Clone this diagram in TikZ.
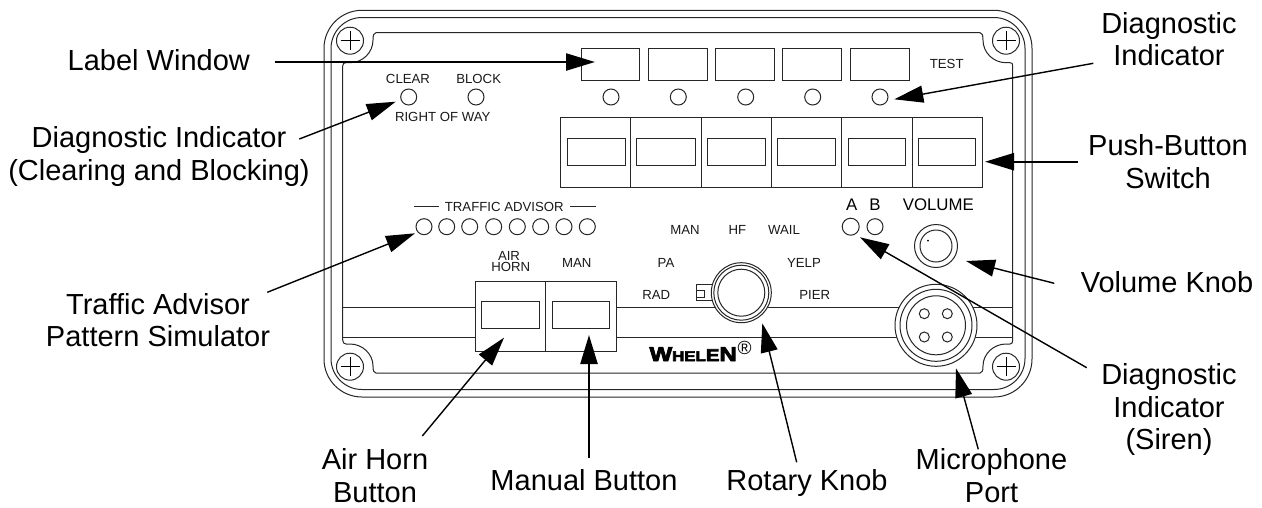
\documentclass[tikz,border=0pt]{standalone}
\usepackage{fontspec}
\setmainfont{Liberation Sans}
\newfontfamily\logofont[BoldFeatures={FakeBold=4}]{Liberation Sans}
\usetikzlibrary{arrows.meta}
\newcommand{\fsz}[1]{\fontsize{#1}{#1}\selectfont}
\tikzset{
  x=1pt,y=-1pt,
  body/.style={line width=1pt,draw=black!85},
  part/.style={line width=1pt,draw=black!85,fill=white},
  callout/.style={font=\fontsize{29}{32.3}\selectfont,align=center,inner sep=0pt,anchor=base},
  small/.style={font=\fsz{13.2},inner sep=0pt,black!90},
  big/.style={font=\fsz{16.8},inner sep=0pt},
  thinarrow/.style={line width=1.4pt,-{Triangle[length=29pt,width=17pt]}},
  thickarrow/.style={line width=2.3pt,-{Triangle[length=29pt,width=17pt]}},
  led/.style={circle,draw=black!85,line width=1pt,fill=white,minimum size=16pt,inner sep=0pt},
}
\begin{document}
\begin{tikzpicture}
\useasboundingbox (0,0) rectangle (1262,507);
% housing
\draw[body,rounded corners=38pt] (324,10.3) rectangle (1032,397);
\draw[body,rounded corners=31pt] (331,17.5) rectangle (1025,389.5);
\draw[body] (342.7,66) .. controls (342.7,63.5) and (344,62.7) .. (346,62.7) -- (350,62.7)
 .. controls (362.5,62.7) and (373,52.7) .. (373,40) .. controls (373,35) and (374,32.7) .. (376,32.7)
 -- (980,32.7) .. controls (982,32.7) and (983,35) .. (983,40)
 .. controls (983,52.7) and (993.5,62.7) .. (1006,62.7) -- (1010,62.7)
 .. controls (1012,62.7) and (1012.7,63.5) .. (1012.7,66) -- (1012.7,340)
 .. controls (1012.7,342.5) and (1012,344) .. (1010,344) -- (1006,344)
 .. controls (993.5,344) and (983,354) .. (983,366) .. controls (983,371) and (982,373) .. (980,373)
 -- (376,373) .. controls (374,373) and (373,371) .. (373,366)
 .. controls (373,354) and (362.5,344) .. (350,344) -- (346,344)
 .. controls (344,344) and (342.7,342.5) .. (342.7,340) -- cycle;
\draw[body] (342.7,307.7) -- (475.5,307.7) (342.7,337) -- (475.5,337);
\draw[body] (616,307.7) -- (1012.7,307.7) (616,337) -- (1012.7,337);
% screws
\foreach \n/\cx/\cy in {s1/350/40.7,s2/1006/40.7,s3/350/366.7,s4/1006/366.7}{
  \node[circle,draw=black!85,line width=1pt,fill=white,minimum size=27pt,inner sep=0pt] (\n) at (\cx,\cy) {};
  \draw[line width=.8pt] (\cx-9.5,\cy) -- (\cx+9.5,\cy) (\cx,\cy-9.5) -- (\cx,\cy+9.5);
}
% label windows
\foreach \a/\b in {581/639.7,648.3/707,715.7/774.7,782.3/841.7,850/909}
  \draw[part] (\a,48.3) rectangle (\b,80.7);
\node[small] (test) at (946.7,64) {TEST};
% leds top
\foreach \n/\cx in {l1/611,l2/678.3,l3/745.7,l4/812.7,l5/880,clr/408.7,blk/476}
  \node[led] (\n) at (\cx,97) {};
\node[small] (tclear) at (408,79) {CLEAR};
\node[small] (tblock) at (478.7,79) {BLOCK};
\node[small] (trow) at (442.7,117) {RIGHT OF WAY};
% push buttons
\draw[part] (560.7,117.3) rectangle (982.3,187.7);
\foreach \d in {630.7,701,771,841.3,912.3} \draw[body] (\d,117.3) -- (\d,187.7);
\foreach \a/\b in {567.3/625.3,636.7/695,707.3/765.7,777.3/835.3,848/905.7,918.3/975.7}
  \draw[part] (\a,138.3) rectangle (\b,165.3);
% traffic advisor
\node[small] (ttraf) at (504.3,206.7) {TRAFFIC ADVISOR};
\draw[body] (414,206.7) -- (439.3,206.7) (570,206.7) -- (595.7,206.7);
\foreach \cx [count=\i] in {424,446.7,469.7,493.7,517.3,540.7,564,587.3}
  \node[led] (ta\i) at (\cx,226.7) {};
% siren leds and volume
\node[big] (ta) at (851.7,205) {A};
\node[big] (tb) at (875,205) {B};
\node[led,minimum size=17pt] (ledA) at (850.7,226.7) {};
\node[led] (ledB) at (875,226.7) {};
\node[big] (tvol) at (938.3,205) {VOLUME};
\node[circle,part,minimum size=43pt,inner sep=0pt] (vol) at (936,246) {};
\node[circle,part,minimum size=32pt,inner sep=0pt] (volin) at (936,246) {};
\fill (928,240.7) circle (1pt);
% bottom buttons
\draw[part] (475.5,281) rectangle (616,351.3);
\draw[body] (545.7,281) -- (545.7,351.3);
\draw[part] (481.3,301.3) rectangle (539.7,328.7);
\draw[part] (552.3,301.3) rectangle (609.7,328.7);
\node[small] (tair) at (509,256) {AIR};
\node[small] (thorn) at (510.7,267) {HORN};
\node[small] (tman) at (576.7,263) {MAN};
% rotary labels
\node[small] (rpa) at (666,263) {PA};
\node[small] (rrad) at (656.3,295) {RAD};
\node[small] (rman) at (685,230) {MAN};
\node[small] (rhf) at (737.3,230) {HF};
\node[small] (rwail) at (784,230) {WAIL};
\node[small] (ryelp) at (804,263) {YELP};
\node[small] (rpier) at (814.7,295) {PIER};
% rotary knob
\draw[part] (696,284.7) rectangle (714,300.3);
\draw[body] (696,290) -- (704,290) -- (704,297) -- (696,297);
\node[circle,part,minimum size=60pt,inner sep=0pt] (rot) at (741.3,292.7) {};
\node[circle,part,minimum size=55pt,inner sep=0pt] (rot2) at (741.3,292.7) {};
\node[circle,part,minimum size=47pt,inner sep=0pt] (rot3) at (741.3,292.7) {};
% mic port
\node[circle,part,minimum size=82pt,inner sep=0pt] (mic) at (936,325.3) {};
\node[circle,part,minimum size=72pt,inner sep=0pt] (mic2) at (936,325.3) {};
\node[circle,part,minimum size=59pt,inner sep=0pt] (mic3) at (936,325.3) {};
\foreach \n/\cx/\cy in {p1/924.3/313.7,p2/947.3/313.7,p3/924.3/337,p4/947.3/337}
  \node[circle,part,minimum size=10pt,inner sep=0pt] (\n) at (\cx,\cy) {};
% logo
\node[inner sep=0pt,anchor=base west,xscale=1.2] (logo) at (649.3,361)
  {\logofont\bfseries\fsz{20}W\fsz{14}HEL\fsz{17}E\fsz{20}N};
\node[inner sep=0pt] (reg) at (744.5,348) {\fsz{19}®};
% callout labels
\node[callout] (lw) at (158.8,70) {Label Window};
\node[callout] (dcb) at (159,180) {Diagnostic Indicator\\(Clearing and Blocking)};
\node[callout] (tap) at (158,346.7) {Traffic Advisor\\Pattern Simulator};
\node[callout] (ah) at (375,502) {Air Horn\\Button};
\node[callout] (mb) at (584,490.7) {Manual Button};
\node[callout] (rk) at (807,490.7) {Rotary Knob};
\node[callout] (mp) at (991.5,502) {Microphone\\Port};
\node[callout] (dis) at (1169,449.5) {Diagnostic\\Indicator\\(Siren)};
\node[callout] (vk) at (1167,292.3) {Volume Knob};
\node[callout] (pb) at (1168,188) {Push-Button\\Switch};
\node[callout] (di) at (1169,65.7) {Diagnostic\\Indicator};
% connector ends
\coordinate (c1a) at (275.3,62);    \coordinate (c1b) at (595,62);
\coordinate (c2a) at (299.3,139);   \coordinate (c2b) at (395.7,101.7);
\coordinate (c3a) at (267.3,292.3); \coordinate (c3b) at (415,233.3);
\coordinate (c4a) at (422.3,436);   \coordinate (c4b) at (504,337.7);
\coordinate (c5a) at (589,458.3);   \coordinate (c5b) at (589,335);
\coordinate (c6a) at (796.7,462.3); \coordinate (c6b) at (762.3,323.3);
\coordinate (c7a) at (978.3,449.3); \coordinate (c7b) at (956,368.3);
\coordinate (c8a) at (1086.7,367.7); \coordinate (c8b) at (860,237.3);
\coordinate (c9a) at (1054.3,283.3); \coordinate (c9b) at (966,261);
\coordinate (c10a) at (1077.7,161.7); \coordinate (c10b) at (985,161.7);
\coordinate (c11a) at (1093.3,63.3); \coordinate (c11b) at (894.3,99.3);
\draw[thickarrow] (c1a) -- (c1b);
\draw[thinarrow] (c2a) -- (c2b);
\draw[thinarrow] (c3a) -- (c3b);
\draw[thinarrow] (c4a) -- (c4b);
\draw[thickarrow] (c5a) -- (c5b);
\draw[thinarrow] (c6a) -- (c6b);
\draw[thinarrow] (c7a) -- (c7b);
\draw[thinarrow] (c8a) -- (c8b);
\draw[thinarrow] (c9a) -- (c9b);
\draw[thickarrow] (c10a) -- (c10b);
\draw[thinarrow] (c11a) -- (c11b);
\end{tikzpicture}
\end{document}
